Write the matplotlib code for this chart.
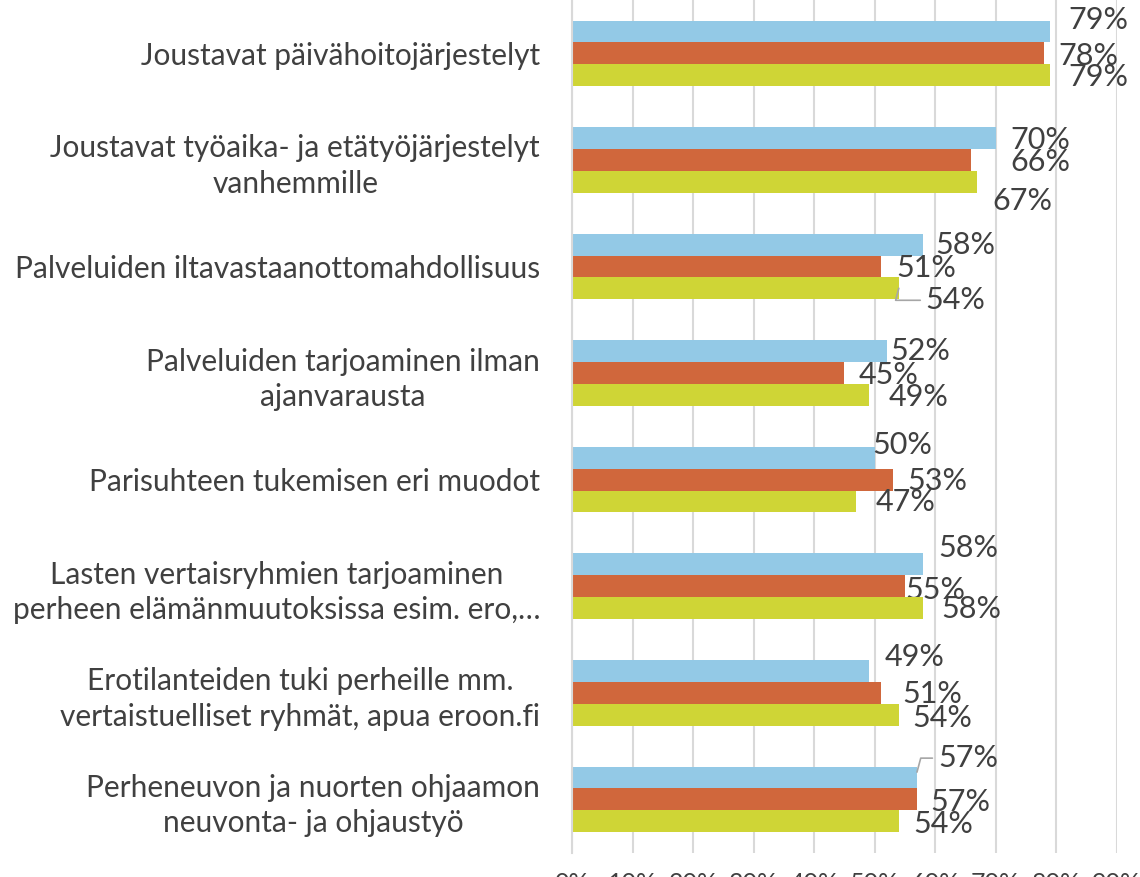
import matplotlib
matplotlib.use("Agg")
import matplotlib.pyplot as plt
import numpy as np

plt.rcParams['font.family'] = ['Lato', 'DejaVu Sans']

# Data
categories = [
    "Joustavat päivähoitojärjestelyt",
    "Joustavat työaika- ja etätyöjärjestelyt\nvanhemmille",
    "Palveluiden iltavastaanottomahdollisuus",
    "Palveluiden tarjoaminen ilman\najanvarausta",
    "Parisuhteen tukemisen eri muodot",
    "Lasten vertaisryhmien tarjoaminen\nperheen elämänmuutoksissa esim. ero,…",
    "Erotilanteiden tuki perheille mm.\nvertaistuelliset ryhmät, apua eroon.fi",
    "Perheneuvon ja nuorten ohjaamon\nneuvonta- ja ohjaustyö",
]
series_blue = [79, 70, 58, 52, 50, 58, 49, 57]
series_orange = [78, 66, 51, 45, 53, 55, 51, 57]
series_yellow = [79, 67, 54, 49, 47, 58, 54, 54]
x_ticks = [0, 10, 20, 30, 40, 50, 60, 70, 80, 90]
x_tick_labels = ["0%", "10%", "20%", "30%", "40%", "50%", "60%", "70%", "80%", "90%"]

colors = ["#93C9E6", "#D0673C", "#CFD536"]
text_color = "#404040"
grid_color = "#D9D9D9"

# label nudges in pixels (dx from bar end, dy downward from bar centre), per series
nudge_blue = [(18, -11), (15, 2), (12, 0), (4, 0), (-2, -13), (15, -16), (16, -14), (21, -14)]
nudge_orange = [(14, 3), (39, 2), (16, 2), (14, 2), (15, 1), (0, 4), (22, 1), (13, 3)]
nudge_yellow = [(18, 2), (15, 19), (27, 12), (20, 2), (19, 1), (18, 1), (14, 3), (15, 3)]

fig = plt.figure(figsize=(11.4, 8.77), dpi=100)
ax = fig.add_axes([572 / 1140, 1 - 852.6 / 877, (1116.7 - 572) / 1140, 852.6 / 877])

y = np.arange(len(categories))
h = 0.205
all_series = [series_blue, series_orange, series_yellow]
all_nudges = [nudge_blue, nudge_orange, nudge_yellow]
for k, (vals, col, nud) in enumerate(zip(all_series, colors, all_nudges)):
    pos = y + (k - 1) * h
    ax.barh(pos, vals, height=h, color=col, zorder=3)
    for i, (v, p) in enumerate(zip(vals, pos)):
        dx, dy = nud[i]
        leader = (k == 2 and i == 2) or (k == 0 and i == 7)
        if leader:
            ax.annotate(f"{v}%", xy=(v, p - (0.0 if k == 2 else 0.05)), xycoords="data",
                        xytext=(dx, -dy), textcoords="offset pixels",
                        ha="left", va="center", fontsize=22, color=text_color,
                        arrowprops=dict(arrowstyle="-", color="#A6A6A6", lw=1.2,
                                        shrinkA=2, shrinkB=0, relpos=(0, 0.5),
                                        connectionstyle="angle,angleA=0,angleB=75,rad=0"))
        else:
            ax.annotate(f"{v}%", xy=(v, p), xycoords="data",
                        xytext=(dx, -dy), textcoords="offset pixels",
                        ha="left", va="center", fontsize=22, color=text_color,
                        annotation_clip=False)

ax.set_xlim(0, 90)
ax.set_ylim(len(categories) - 0.5, -0.5)
ax.set_xticks(x_ticks)
ax.set_xticklabels(x_tick_labels, fontsize=18, color=text_color)
ax.set_yticks(y)
ax.set_yticklabels(categories, fontsize=21.5, color=text_color,
                   multialignment="center", linespacing=1.32)
ax.tick_params(axis="y", length=0, pad=23)
ax.tick_params(axis="x", length=0, pad=14)
ax.grid(axis="x", color=grid_color, linewidth=1.5, zorder=0)
for s in ["top", "right", "bottom"]:
    ax.spines[s].set_visible(False)
ax.spines["left"].set_color(grid_color)
ax.spines["left"].set_linewidth(1.5)
ax.spines["left"].set_zorder(4)

fig.savefig("out.png", dpi=100)
